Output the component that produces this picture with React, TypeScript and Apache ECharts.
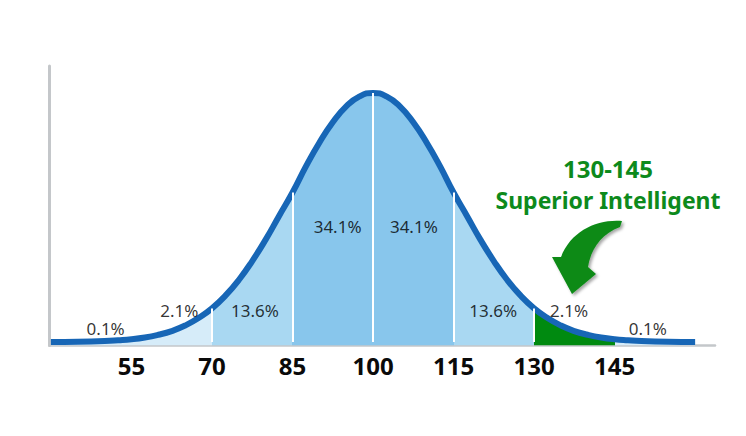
import React, { useEffect, useRef } from "react";
import * as echarts from "echarts";

// IQ score positions along the curve and the curve height (peak = 100)
const curveX = [40, 45, 50, 52.5, 55, 57.5, 60, 62.5, 65, 67.5, 70, 72.5, 75, 77.5, 80, 82.5, 85, 87.5, 90, 92.5, 95, 97.5, 100,
  102.5, 105, 107.5, 110, 112.5, 115, 117.5, 120, 122.5, 125, 127.5, 130, 132.5, 135, 137.5, 140, 142.5, 145, 147.5, 150, 155, 160];
const curveY = [0.0, 0.1, 0.4, 0.7, 1.1, 1.8, 2.9, 4.4, 6.6, 9.6, 13.5, 18.6, 24.9, 32.5, 41.1, 50.6, 60.0, 70.5, 80.0, 88.2, 94.6, 98.6, 100,
  98.6, 94.6, 88.2, 80.0, 70.5, 60.0, 50.6, 41.1, 32.5, 24.9, 18.6, 13.5, 9.6, 6.6, 4.4, 2.9, 1.8, 1.1, 0.7, 0.4, 0.1, 0.0];

const tickValues = [55, 70, 85, 100, 115, 130, 145];
const dividerValues = [70, 85, 100, 115, 130];
const bandEdges = [70, 85, 115, 130, 145];
const pctLabels = ["0.1%", "2.1%", "13.6%", "34.1%", "34.1%", "13.6%", "2.1%", "0.1%"];
const highlightRange = "130-145";
const highlightName = "Superior Intelligent";

// layout / style
const bandColors = ["#d6ecf9", "#a9d8f2", "#88c6ec", "#a9d8f2", "#008a10", "#d6ecf9"];
const pctPos = [[50.2, 5.6], [63.9, 12.6], [78.0, 12.6], [93.4, 46.3], [107.6, 46.3], [122.4, 12.6], [136.5, 12.6], [151.2, 5.6]];
const Y_MIN = -1.4;
const Y_MAX = 110.8;

const arrowD =
  "M622 221 C597 219 571 231 561 257 L552 257 L572 294 L596 274 L588 267 C591 249 601 234 620 227 Z";
echarts.graphic.registerShape("curvedArrow", echarts.graphic.extendPath(arrowD, {}) as any);

export default function App() {
  const ref = useRef<HTMLDivElement>(null);
  useEffect(() => {
    if (!ref.current) return;
    const chart = echarts.init(ref.current, undefined, { renderer: "svg" });
    const curveData = curveX.map((x, i) => [x, curveY[i]]);
    const pieces: any[] = [];
    for (let i = 0; i <= bandEdges.length; i++) {
      const p: any = { color: bandColors[i] };
      if (i > 0) p.gte = bandEdges[i - 1];
      if (i < bandEdges.length) p.lt = bandEdges[i];
      pieces.push(p);
    }
    const greenText = (txt: string, y: number, size: number) => ({
      type: "text",
      x: 608,
      y,
      z: 20,
      style: {
        text: txt,
        font: `bold ${size}px "Noto Sans"`,
        fill: "#0d8a1c",
        stroke: "#ffffff",
        lineWidth: 5,
        align: "center",
        verticalAlign: "middle",
        textAlign: "center",
        textVerticalAlign: "middle",
        shadowBlur: 3,
        shadowColor: "rgba(0,0,0,0.25)",
      },
    });
    const option: any = {
      animation: false,
      grid: { left: 49.3, right: 31, top: 66, bottom: 90.5, containLabel: false },
      xAxis: {
        type: "value",
        min: 39.7,
        max: 163.7,
        axisLine: { show: true, onZero: false, lineStyle: { color: "#c4c7ca", width: 2.5 } },
        axisTick: { show: false },
        splitLine: { show: false },
        axisLabel: {
          customValues: tickValues,
          margin: 8,
          color: "#0a0a0a",
          fontFamily: "Noto Sans",
          fontWeight: "bold",
          fontSize: 24,
        },
      },
      yAxis: {
        type: "value",
        min: Y_MIN,
        max: Y_MAX,
        axisLine: { show: true, onZero: false, lineStyle: { color: "#c4c7ca", width: 3 } },
        axisTick: { show: false },
        axisLabel: { show: false },
        splitLine: { show: false },
      },
      visualMap: { show: false, type: "piecewise", seriesIndex: 0, dimension: 0, pieces },
      series: [
        {
          type: "line",
          data: curveData,
          smooth: true,
          symbol: "none",
          silent: true,
          lineStyle: { width: 0 },
          areaStyle: { opacity: 1, origin: "start" },
          z: 2,
          markLine: {
            silent: true,
            symbol: ["none", "none"],
            label: { show: false },
            lineStyle: { color: "#ffffff", width: 2, type: "solid" },
            data: dividerValues.map((x) => [
              { coord: [x, 0] },
              { coord: [x, curveY[curveX.indexOf(x)]] },
            ]),
          },
        },
        {
          type: "line",
          data: curveData,
          smooth: true,
          symbol: "none",
          silent: true,
          lineStyle: { width: 6, color: "#1766b6" },
          z: 4,
        },
        {
          type: "scatter",
          data: pctLabels.map((t, i) => ({ value: pctPos[i], name: t })),
          symbolSize: 0,
          silent: true,
          z: 5,
          label: {
            show: true,
            position: "inside",
            formatter: "{b}",
            fontFamily: "Noto Sans",
            fontSize: 17,
            color: "#000000",
            textBorderWidth: 0,
          },
        },
      ],
      graphic: [
        {
          type: "curvedArrow",
          x: 0,
          y: 0,
          z: 15,
          style: {
            fill: "#0b8a17",
            shadowBlur: 3,
            shadowColor: "rgba(0,0,0,0.35)",
            shadowOffsetX: 2,
            shadowOffsetY: 2,
          },
        },
        greenText(highlightRange, 168, 24),
        greenText(highlightName, 200, 23),
      ],
    };
    chart.setOption(option);
    return () => chart.dispose();
  }, []);
  return (
    <div
      ref={ref}
      style={{ position: "fixed", left: 0, top: 0, width: 746, height: 436, background: "#fff" }}
    />
  );
}
